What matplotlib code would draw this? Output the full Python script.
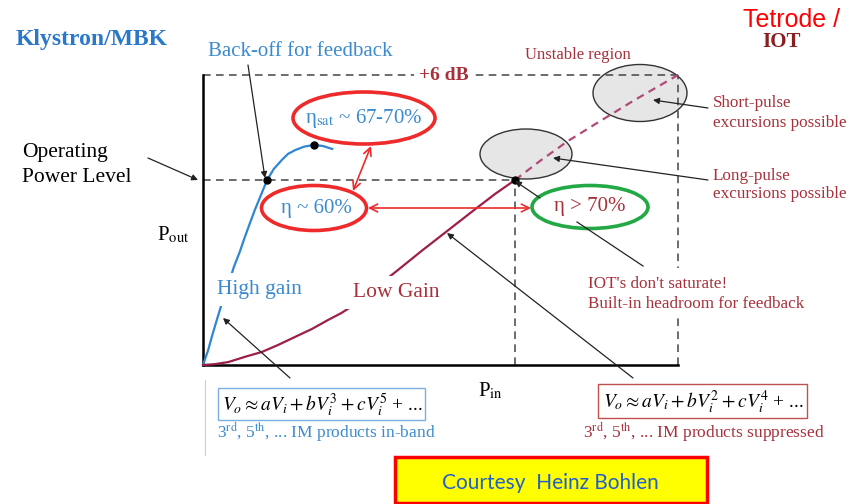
import matplotlib.pyplot as plt
from matplotlib.patches import Ellipse, Rectangle
from matplotlib.transforms import Affine2D

plt.rcParams['font.family'] = 'Liberation Serif'
plt.rcParams['mathtext.fontset'] = 'stix'

# normalised P_in / P_out (1.0 = the +6 dB level)
klystron_pin = [0.000, 0.011, 0.019, 0.029, 0.040, 0.053, 0.065, 0.078, 0.088, 0.099, 0.109,
                0.122, 0.135, 0.149, 0.166, 0.179, 0.194, 0.213, 0.234, 0.253, 0.272]
klystron_pout = [0.000, 0.052, 0.100, 0.155, 0.214, 0.276, 0.338, 0.393, 0.441, 0.490, 0.534,
                 0.586, 0.638, 0.676, 0.707, 0.728, 0.741, 0.753, 0.759, 0.755, 0.745]
iot_pin = [0.000, 0.025, 0.053, 0.088, 0.124, 0.158, 0.194, 0.229, 0.263, 0.291, 0.318,
           0.341, 0.364, 0.387, 0.413, 0.463, 0.514, 0.568, 0.615, 0.657]
iot_pout = [0.000, 0.003, 0.010, 0.028, 0.045, 0.069, 0.097, 0.124, 0.155, 0.179, 0.207,
            0.234, 0.266, 0.297, 0.331, 0.397, 0.462, 0.531, 0.590, 0.638]
iot_ext_pin = [0.657, 0.709, 0.768, 0.836, 0.909, 1.0]
iot_ext_pout = [0.638, 0.703, 0.772, 0.841, 0.914, 1.0]
op_level = 0.638
klystron_op = 0.135
klystron_sat = (0.234, 0.759)
iot_op = 0.657
headroom = 1.0

BLUE = '#2f86d1'
BLUE_TXT = '#3a8ad0'
DRED = '#a8303a'
CRIMSON = '#9c1e4a'
RED = '#ee2a2a'
GREY = '#444444'

fig = plt.figure(figsize=(8.62, 5.04), dpi=100)
fig.patch.set_facecolor('white')
ax = fig.add_axes([203 / 862, 139 / 504, 475 / 862, 290 / 504])
ax.patch.set_visible(False)
ax.set_xlim(0, 1)
ax.set_ylim(0, 1)
ax.set_xticks([])
ax.set_yticks([])
for s in ['top', 'right']:
    ax.spines[s].set_visible(False)
for s in ['left', 'bottom']:
    ax.spines[s].set_linewidth(1.8)
    ax.spines[s].set_color('black')

# pixel coords (top-left origin) for the annotations
pix = Affine2D().scale(1 / 862, -1 / 504).translate(0, 1) + fig.transFigure

# dashed guide lines
dash = dict(color=GREY, lw=1.1, ls=(0, (5, 3.5)), clip_on=False, zorder=2)
ax.plot([0, headroom], [headroom, headroom], **dash)
ax.plot([headroom, headroom], [0, headroom], **dash)
ax.plot([0, iot_op], [op_level, op_level], **dash)
ax.plot([iot_op, iot_op], [0, op_level], **dash)

# curves
ax.plot(klystron_pin, klystron_pout, color=BLUE, lw=1.6, clip_on=False, zorder=3,
        solid_joinstyle='round')
ax.plot(iot_pin, iot_pout, color=CRIMSON, lw=1.6, clip_on=False, zorder=3,
        solid_joinstyle='round')
ax.plot(iot_ext_pin, iot_ext_pout, color='#b04a78', lw=1.6, ls=(0, (3.5, 2.5)),
        clip_on=False, zorder=2.5)
ax.plot([klystron_op, klystron_sat[0], iot_op], [op_level, klystron_sat[1], op_level],
        'o', color='black', ms=5, clip_on=False, zorder=4)

# grey excursion ellipses
for (cx, cy, w, h) in [(526, 154, 92, 50), (640, 93, 94, 57)]:
    ax.add_patch(Ellipse((cx, cy), w, h, transform=pix, fc='#e6e6e6', ec='#333333',
                         lw=1.0, zorder=1, clip_on=False))

# efficiency ellipses
ax.add_patch(Ellipse((364, 118), 142, 52, transform=pix, fill=False, ec=RED, lw=2.6,
                     zorder=4, clip_on=False))
ax.add_patch(Ellipse((314, 208), 105, 45, transform=pix, fill=False, ec=RED, lw=2.6,
                     zorder=4, clip_on=False))
ax.add_patch(Ellipse((590, 207), 116, 43, transform=pix, fill=False, ec='#22a844', lw=2.6,
                     zorder=4, clip_on=False))

def txt(x, y, s, **kw):
    kw.setdefault('va', 'baseline')
    kw.setdefault('ha', 'left')
    return ax.text(x, y, s, transform=pix, clip_on=False, zorder=6, **kw)

def arrow(xy, xyt, style='-|>', color='#222222', lw=0.9, ms=9):
    ax.annotate('', xy=xy, xytext=xyt, xycoords=pix, textcoords=pix,
                arrowprops=dict(arrowstyle=style, color=color, lw=lw, mutation_scale=ms,
                                shrinkA=0, shrinkB=0), zorder=5)

white = dict(facecolor='white', edgecolor='none', pad=5)

txt(364, 119, r'η$_{\rm sat}$ ~ 67-70%', color=BLUE_TXT, fontsize=15, ha='center', va='center')
txt(316, 208, 'η ~ 60%', color=BLUE_TXT, fontsize=15, ha='center', va='center')
txt(590, 207, 'η > 70%', color=DRED, fontsize=15, ha='center', va='center')

# red double arrows
arrow((371, 146), (353, 191), style='<->', color=RED, lw=1.2, ms=14)
arrow((531, 208), (368, 208), style='<->', color=RED, lw=1.2, ms=14)

# black pointers
arrow((198, 180), (148, 158))
arrow((265, 178), (248, 65))
arrow((223, 318), (290, 378))
arrow((447, 233), (633, 378))
arrow((515, 181), (540, 198))
arrow((553, 158), (708, 180))
arrow((653, 100), (708, 108))
ax.plot([577, 643], [222, 266], color='#222222', lw=0.9, transform=pix, clip_on=False, zorder=5)

# labels
txt(16, 45, 'Klystron/MBK', color='#2a78c8', fontsize=17, fontweight='bold')
txt(208, 56, 'Back-off for feedback', color=BLUE_TXT, fontsize=15)
txt(525, 59, 'Unstable region', color=DRED, fontsize=12)
txt(444, 76, '+6 dB', color=DRED, fontsize=14, fontweight='bold', ha='center', va='center',
    bbox=dict(facecolor='white', edgecolor='none', pad=4))
txt(743, 27, 'Tetrode /', color='#ff0000', fontsize=18, family='Liberation Sans')
txt(762, 47, 'IOT', color='#8b2020', fontsize=15, fontweight='bold')
txt(22, 157, 'Operating', color='black', fontsize=15.5)
txt(22, 182, 'Power Level', color='black', fontsize=15.5)
txt(157, 240, r'P$_{\rm out}$', color='black', fontsize=15)
txt(478, 396, r'P$_{\rm in}$', color='black', fontsize=15)
txt(217, 294, 'High gain', color=BLUE_TXT, fontsize=15.5, bbox=white)
txt(353, 297, 'Low Gain', color=DRED, fontsize=15.5, bbox=white)
txt(713, 107, 'Short-pulse', color=DRED, fontsize=12.3)
txt(713, 127, 'excursions possible', color=DRED, fontsize=12.3)
txt(713, 180, 'Long-pulse', color=DRED, fontsize=12.3)
txt(713, 198, 'excursions possible', color=DRED, fontsize=12.3)
txt(588, 288, "IOT's don't saturate!", color=DRED, fontsize=12.3)
txt(588, 308, 'Built-in headroom for feedback', color=DRED, fontsize=12.3,
    bbox=dict(facecolor='white', edgecolor='none', pad=2))
ax.add_patch(Rectangle((670, 268), 16, 44, transform=pix, fc='white', ec='none',
                       zorder=5.5, clip_on=False))

# distortion formulas
ax.add_patch(Rectangle((218, 388), 207, 32, transform=pix, fill=False, ec='#7aaee0',
                       lw=1.0, zorder=4, clip_on=False))
txt(222, 411, r'$V_o \approx aV_i + bV_i^3 + cV_i^5$ + ...', color='black', fontsize=14)
txt(217, 438, r'3$^{\rm rd}$, 5$^{\rm th}$, ... IM products in-band', color=BLUE_TXT, fontsize=12.5)
ax.add_patch(Rectangle((598, 384), 209, 34, transform=pix, fill=False, ec='#c05050',
                       lw=1.0, zorder=4, clip_on=False))
txt(603, 408, r'$V_o \approx aV_i + bV_i^2 + cV_i^4$ + ...', color='black', fontsize=14)
txt(583, 438, r'3$^{\rm rd}$, 5$^{\rm th}$, ... IM products suppressed', color=DRED, fontsize=12.5)
ax.plot([205, 205], [380, 455], color='#d0d0d0', lw=0.8, transform=pix, clip_on=False)

# courtesy box
ax.add_patch(Rectangle((395, 457), 312, 46, transform=pix, fc='#ffff00', ec='#ff0000',
                       lw=2.5, zorder=4, clip_on=False))
txt(550, 483, 'Courtesy  Heinz Bohlen', color='#1f5fd0', fontsize=15, family='Lato',
    ha='center', va='center')

fig.savefig('out.png', dpi=100, facecolor='white')
